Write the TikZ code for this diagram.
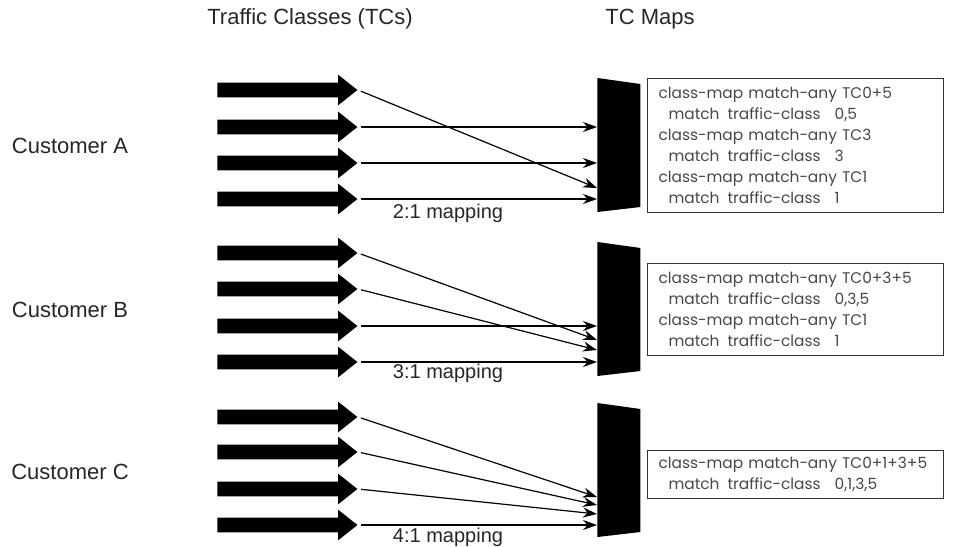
\documentclass[tikz,border=0pt]{standalone}
\usepackage{fontspec}
\setmainfont{Liberation Sans}
\newfontfamily\mapfont{Poppins}
\usetikzlibrary{arrows.meta}
\usetikzlibrary{shapes.arrows}
\usetikzlibrary{positioning}

\tikzset{
  flow/.style={single arrow, fill=black, inner xsep=0pt, inner ysep=3.5pt,
    single arrow head extend=4pt, single arrow tip angle=77,
    minimum height=70pt, anchor=tail},
  mux/.style={minimum width=21.5pt, minimum height=67pt, inner sep=0pt, anchor=west,
    path picture={\fill (path picture bounding box.north west)
      -- ([yshift=-3pt]path picture bounding box.north east)
      -- ([yshift=2.5pt]path picture bounding box.south east)
      -- (path picture bounding box.south west) -- cycle;}},
  cmap/.style={draw=black!80, line width=0.5pt, anchor=north west,
    text width=137pt, inner xsep=5.5pt, align=left, text=black!72,
    font=\mapfont\fontsize{7.7pt}{10.5pt}\selectfont},
  title/.style={text=black!85, font=\fontsize{11pt}{13pt}\selectfont},
  maplabel/.style={text=black!85, font=\fontsize{10pt}{12pt}\selectfont},
  link/.style={every edge/.style={draw, line width=0.6pt, shorten <=1.5pt,
    -{Stealth[length=7pt,width=5pt]}}}
}
\newcommand{\mline}[1]{\hspace*{5pt}match\hspace{4pt}traffic-class\hspace{7pt}#1}

\begin{document}
\begin{tikzpicture}[x=0.5pt,y=-0.5pt]
  \useasboundingbox (0,0) rectangle (958,546);

  % headings
  \node [title] (tcs)  at (310,19) {Traffic Classes (TCs)};
  \node [title] (maps) at (650,19) {TC Maps};

  % customer A
  \node [title] (custA) at (70,146) {Customer A};
  \node [flow] (A1) at (217,90)  {};
  \node [flow] (A2) at (217,127) {};
  \node [flow] (A3) at (217,163) {};
  \node [flow] (A4) at (217,199) {};
  \node [mux] (mA) at (597,145) {};
  \node [cmap, minimum height=67pt] (mapA) at (647,78)
    {class-map match-any TC0+5\\ \mline{0,5}\\
     class-map match-any TC3\\ \mline{3}\\
     class-map match-any TC1\\ \mline{1}};
  \coordinate (inA1) at (597,188);
  \node [maplabel] (ratioA) at (448,213) {2:1 mapping};

  \path [link]
    (A1.tip) edge (inA1)
    (A2.tip) edge (mA.west |- A2.tip)
    (A3.tip) edge (mA.west |- A3.tip)
    (A4.tip) edge (mA.west |- A4.tip);

  % customer B
  \node [title] (custB) at (70,310) {Customer B};
  \node [flow] (B1) at (217,253) {};
  \node [flow] (B2) at (217,289) {};
  \node [flow] (B3) at (217,326) {};
  \node [flow] (B4) at (217,362) {};
  \node [mux] (mB) at (597,309) {};
  \node [cmap, minimum height=46pt] (mapB) at (647,263)
    {class-map match-any TC0+3+5\\ \mline{0,3,5}\\
     class-map match-any TC1\\ \mline{1}};
  \coordinate (inB1) at (597,340);
  \coordinate (inB2) at (597,350);
  \node [maplabel] (ratioB) at (448,373) {3:1 mapping};

  \path [link]
    (B1.tip) edge (inB1)
    (B2.tip) edge (inB2)
    (B3.tip) edge (mB.west |- B3.tip)
    (B4.tip) edge (mB.west |- B4.tip);

  % customer C
  \node [title] (custC) at (70,472) {Customer C};
  \node [flow] (C1) at (217,417) {};
  \node [flow] (C2) at (217,452) {};
  \node [flow] (C3) at (217,489) {};
  \node [flow] (C4) at (217,525) {};
  \node [mux] (mC) at (597,470) {};
  \node [cmap, minimum height=24pt] (mapC) at (647,450)
    {\mbox{class-map match-any TC0+1+3+5}\\ \mline{0,1,3,5}};
  \coordinate (inC1) at (597,497);
  \coordinate (inC2) at (597,505);
  \coordinate (inC3) at (597,514);
  \node [maplabel] (ratioC) at (448,537) {4:1 mapping};

  \path [link]
    (C1.tip) edge (inC1)
    (C2.tip) edge (inC2)
    (C3.tip) edge (inC3)
    (C4.tip) edge (mC.west |- C4.tip);

\end{tikzpicture}
\end{document}
